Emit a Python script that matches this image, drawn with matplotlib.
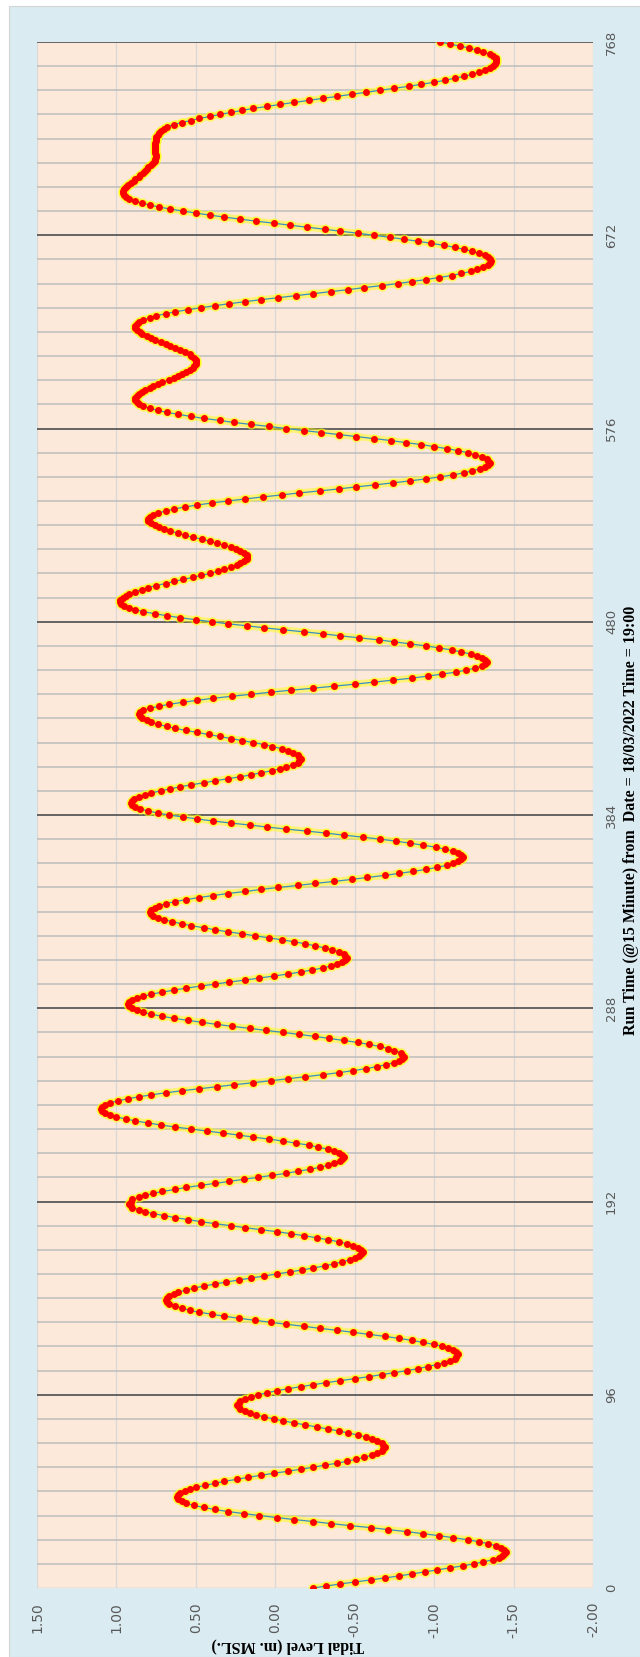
import numpy as np
import matplotlib
matplotlib.use("Agg")
import matplotlib.pyplot as plt
from matplotlib.patches import Rectangle

# tidal level (m MSL) at 15 minute steps, one list per day of 96 steps
day1 = [-0.24, -0.32, -0.41, -0.50, -0.60, -0.69, -0.78, -0.86, -0.94, -1.02,
        -1.10, -1.18, -1.25, -1.31, -1.37, -1.41, -1.43, -1.44, -1.45,
        -1.44, -1.42, -1.39, -1.34, -1.28, -1.21, -1.12, -1.03, -0.93, -0.83,
        -0.71, -0.60, -0.47, -0.35, -0.24, -0.12, -0.01, 0.10, 0.20, 0.30,
        0.38, 0.45, 0.51, 0.56, 0.59, 0.61, 0.62,
        0.61, 0.60, 0.57, 0.54, 0.50, 0.44, 0.38, 0.32, 0.24, 0.17, 0.09, 0.01,
        -0.08, -0.16, -0.24, -0.31, -0.39, -0.45, -0.51, -0.56, -0.61, -0.64,
        -0.67, -0.68, -0.69,
        -0.68, -0.67, -0.64, -0.61, -0.57, -0.52, -0.46, -0.40, -0.33, -0.26,
        -0.19, -0.12, -0.05, 0.01, 0.07, 0.12, 0.16, 0.19, 0.22, 0.23, 0.24,
        0.23, 0.22, 0.19, 0.15]
day2 = [0.11, 0.05, -0.01, -0.08, -0.16, -0.24, -0.32, -0.41, -0.50, -0.59,
        -0.67, -0.75, -0.83, -0.90, -0.96, -1.02, -1.06, -1.10, -1.13, -1.14,
        -1.15,
        -1.14, -1.12, -1.09, -1.05, -1.00, -0.93, -0.86, -0.78, -0.69, -0.59,
        -0.49, -0.39, -0.28, -0.18, -0.07, 0.03, 0.13, 0.23, 0.32, 0.40, 0.48,
        0.54, 0.59, 0.63, 0.67, 0.68, 0.69,
        0.68, 0.67, 0.64, 0.61, 0.56, 0.51, 0.45, 0.38, 0.31, 0.23, 0.15, 0.07,
        -0.01, -0.09, -0.17, -0.24, -0.31, -0.37, -0.42, -0.47, -0.50, -0.53,
        -0.54, -0.55,
        -0.54, -0.52, -0.49, -0.45, -0.40, -0.33, -0.26, -0.18, -0.10, -0.01,
        0.09, 0.19, 0.28, 0.38, 0.47, 0.55, 0.63, 0.70, 0.77, 0.82, 0.86, 0.90,
        0.91, 0.92]
day3 = [0.91, 0.90, 0.86, 0.82, 0.77, 0.71, 0.63, 0.56, 0.47, 0.38, 0.29, 0.20,
        0.11, 0.02, -0.07, -0.14, -0.22, -0.28, -0.33, -0.37, -0.41, -0.42,
        -0.43,
        -0.42, -0.40, -0.37, -0.33, -0.27, -0.21, -0.13, -0.05, 0.04, 0.14,
        0.23, 0.33, 0.43, 0.53, 0.63, 0.72, 0.80, 0.88, 0.94, 1.00, 1.04, 1.07,
        1.09, 1.10,
        1.09, 1.07, 1.04, 0.99, 0.93, 0.86, 0.78, 0.69, 0.59, 0.48, 0.37, 0.26,
        0.14, 0.03, -0.08, -0.19, -0.30, -0.40, -0.49, -0.57, -0.64, -0.70,
        -0.75, -0.78, -0.80, -0.81,
        -0.80, -0.79, -0.75, -0.71, -0.66, -0.59, -0.52, -0.43, -0.34, -0.25,
        -0.15, -0.05, 0.06, 0.16, 0.27, 0.37, 0.46, 0.55, 0.64, 0.71, 0.78,
        0.83, 0.87]
day4 = [0.90, 0.92, 0.93,
        0.92, 0.90, 0.87, 0.83, 0.78, 0.71, 0.64, 0.56, 0.47, 0.38, 0.29, 0.19,
        0.10, 0.01, -0.08, -0.16, -0.23, -0.30, -0.35, -0.39, -0.42, -0.44,
        -0.45,
        -0.44, -0.43, -0.40, -0.36, -0.31, -0.25, -0.19, -0.12, -0.04, 0.04,
        0.13, 0.21, 0.30, 0.38, 0.45, 0.53, 0.59, 0.65, 0.70, 0.74, 0.77, 0.78,
        0.79,
        0.78, 0.76, 0.73, 0.69, 0.63, 0.56, 0.48, 0.39, 0.30, 0.19, 0.09, -0.02,
        -0.14, -0.25, -0.37, -0.48, -0.58, -0.69, -0.78, -0.87, -0.95, -1.02,
        -1.08, -1.12, -1.15, -1.17, -1.18,
        -1.17, -1.15, -1.12, -1.07, -1.01, -0.93, -0.85, -0.76, -0.66, -0.55,
        -0.43, -0.32, -0.20, -0.07, 0.05, 0.16, 0.28, 0.39, 0.49, 0.58]
day5 = [0.67, 0.74, 0.80, 0.85, 0.88, 0.90, 0.91,
        0.90, 0.89, 0.86, 0.82, 0.78, 0.72, 0.66, 0.60, 0.53, 0.45, 0.38, 0.30,
        0.22, 0.15, 0.09, 0.02, -0.03, -0.07, -0.11, -0.14, -0.15, -0.16,
        -0.15, -0.14, -0.11, -0.08, -0.04, 0.02, 0.07, 0.14, 0.21, 0.28, 0.35,
        0.42, 0.49, 0.56, 0.63, 0.68, 0.74, 0.78, 0.81, 0.84, 0.85, 0.86,
        0.85, 0.83, 0.79, 0.73, 0.67, 0.58, 0.49, 0.39, 0.27, 0.15, 0.03, -0.10,
        -0.24, -0.37, -0.50, -0.62, -0.74, -0.86, -0.96, -1.05, -1.14, -1.20,
        -1.26, -1.30, -1.32, -1.33,
        -1.32, -1.30, -1.27, -1.23, -1.17, -1.11, -1.03, -0.95, -0.85, -0.75,
        -0.65, -0.53, -0.41, -0.30, -0.18, -0.05, 0.07, 0.18, 0.30]
day6 = [0.40, 0.50, 0.60, 0.68, 0.76, 0.83, 0.88, 0.92, 0.95, 0.97, 0.98,
        0.98, 0.96, 0.94, 0.92, 0.88, 0.84, 0.80, 0.75, 0.69, 0.64, 0.58, 0.52,
        0.47, 0.41, 0.36, 0.32, 0.28, 0.24, 0.22, 0.20, 0.18, 0.18,
        0.18, 0.20, 0.22, 0.25, 0.28, 0.32, 0.37, 0.41, 0.46, 0.52, 0.57, 0.61,
        0.66, 0.70, 0.73, 0.76, 0.78, 0.80, 0.80,
        0.79, 0.77, 0.74, 0.69, 0.64, 0.57, 0.49, 0.40, 0.30, 0.19, 0.08, -0.04,
        -0.15, -0.28, -0.40, -0.51, -0.63, -0.74, -0.85, -0.95, -1.04, -1.12,
        -1.19, -1.24, -1.29, -1.32, -1.34, -1.35,
        -1.34, -1.33, -1.30, -1.26, -1.21, -1.15, -1.08, -1.00, -0.92, -0.82,
        -0.73, -0.62, -0.51, -0.40, -0.29, -0.18]
day7 = [-0.07, 0.04, 0.15, 0.26, 0.35, 0.45, 0.53, 0.61, 0.68, 0.74, 0.79,
        0.83, 0.86, 0.87, 0.88,
        0.88, 0.87, 0.86, 0.84, 0.82, 0.79, 0.77, 0.74, 0.71, 0.67, 0.64, 0.61,
        0.59, 0.56, 0.54, 0.52, 0.51, 0.50, 0.50,
        0.50, 0.51, 0.53, 0.54, 0.57, 0.60, 0.63, 0.66, 0.69, 0.72, 0.76, 0.78,
        0.81, 0.84, 0.85, 0.87, 0.88, 0.88,
        0.87, 0.86, 0.83, 0.79, 0.75, 0.69, 0.63, 0.55, 0.47, 0.38, 0.29, 0.19,
        0.09, -0.02, -0.13, -0.24, -0.35, -0.46, -0.56, -0.67, -0.77, -0.86,
        -0.95, -1.03, -1.11, -1.17, -1.23, -1.27, -1.31, -1.34, -1.35, -1.36,
        -1.35, -1.34, -1.32, -1.28, -1.24, -1.19, -1.13, -1.06, -0.98, -0.90,
        -0.81, -0.72]
day8 = [-0.62, -0.52, -0.41, -0.31, -0.20, -0.09, 0.01, 0.12, 0.22, 0.32,
        0.41, 0.50, 0.58, 0.66, 0.73, 0.79, 0.84, 0.88, 0.92, 0.94, 0.95, 0.96,
        0.96, 0.95, 0.94, 0.93, 0.91, 0.89, 0.88, 0.86, 0.85, 0.83, 0.82, 0.81,
        0.80, 0.78, 0.77, 0.76, 0.76, 0.75, 0.75, 0.76, 0.76, 0.76, 0.76, 0.76,
        0.76, 0.75, 0.75, 0.75, 0.74, 0.73, 0.72, 0.70, 0.68, 0.64, 0.59, 0.53,
        0.48,
        0.41, 0.35, 0.28, 0.21, 0.14, 0.05, -0.03, -0.12, -0.21, -0.30, -0.39,
        -0.48, -0.57, -0.66, -0.75, -0.84, -0.92, -1.00, -1.07, -1.13, -1.19,
        -1.24, -1.28, -1.32, -1.35, -1.37, -1.38, -1.39, -1.39, -1.39, -1.37,
        -1.35, -1.31, -1.27, -1.22, -1.16, -1.10, -1.04]

level = np.array(day1 + day2 + day3 + day4 + day5 + day6 + day7 + day8)
run_time = np.arange(len(level))

level_ticks = [1.5, 1.0, 0.5, 0.0, -0.5, -1.0, -1.5, -2.0]
time_ticks = [0, 96, 192, 288, 384, 480, 576, 672, 768]

W, H = 640, 1657
fig = plt.figure(figsize=(W / 100, H / 100), dpi=100)
fig.patch.set_facecolor("white")
fig.patches.append(Rectangle((9 / W, 0), 1, 1 - 6 / H, transform=fig.transFigure,
                             facecolor="#DAEBF2", edgecolor="#D4D4D4", lw=0.8,
                             zorder=-5))

ax = fig.add_axes([37 / W, 69 / H, 556 / W, 1546 / H])
ax.set_zorder(2)
ax.set_facecolor("#FDE9D9")
ax.set_xlim(1.5, -2.0)
ax.set_ylim(0, 768)
for s in ax.spines.values():
    s.set_visible(False)

# grid: light lines for level, 3-hourly lines for time, dark every day
for v in level_ticks:
    ax.axvline(v, color="#D9D9D9", lw=0.9, zorder=1)
for t in range(0, 769, 12):
    if t % 96:
        ax.axhline(t, color="#BDBDBD", lw=1.1, zorder=1)
ax.axhline(0, color="#C8C8C8", lw=1.0, zorder=1)
for t in time_ticks[1:]:
    ax.axhline(t, color="#5A5A5A", lw=1.3, zorder=1)

# yellow glow under the series, then the line and red markers
ax.plot(level, run_time, color="#FFFF00", lw=5, alpha=0.45,
        solid_capstyle="round", zorder=2)
ax.plot(level, run_time, ls="none", marker="o", ms=7.4, mfc="#FFFF00",
        mec="none", alpha=0.55, zorder=3)
ax.plot(level, run_time, color="#3A8FC0", lw=0.9, zorder=4)
ax.plot(level, run_time, ls="none", marker="o", ms=5.0, mfc="#FF0000",
        mec="none", zorder=5)

ax.set_xticks(level_ticks)
ax.set_xticklabels([f"{v:.2f}" for v in level_ticks])
ax.tick_params(axis="x", length=0, pad=10, labelsize=10, labelcolor="#595959",
               labelrotation=90)

ax.yaxis.tick_right()
ax.set_yticks(time_ticks)
ax.set_yticklabels([str(t) for t in time_ticks])
ax.tick_params(axis="y", length=0, pad=8.6, labelsize=9.5, labelcolor="#595959",
               labelrotation=90)
for lbl in ax.get_yticklabels():
    lbl.set_va("center")

fig.text(631 / W, 1 - 820 / H,
         "Run Time (@15 Minute) from  Date = 18/03/2022 Time = 19:00",
         rotation=90, ha="center", va="center", family="Liberation Serif",
         weight="bold", size=11.5)
fig.text(288 / W, 1 - 1646 / H, "Tidal Level (m. MSL.)", rotation=180,
         ha="center", va="center", family="Liberation Serif", weight="bold",
         size=11.5)

fig.savefig("out.png", dpi=100)
